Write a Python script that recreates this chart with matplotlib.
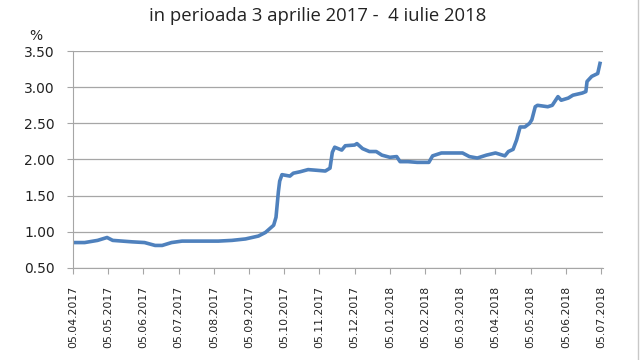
import numpy as np
import matplotlib
matplotlib.use("Agg")
import matplotlib.pyplot as plt
import pandas as pd

# Dobanda (%)
dates = [
    "2017-04-05", "2017-04-15", "2017-04-26", "2017-05-04", "2017-05-09",
    "2017-05-26", "2017-06-06", "2017-06-15", "2017-06-21", "2017-06-29",
    "2017-07-08", "2017-07-22", "2017-08-09", "2017-08-21", "2017-09-02",
    "2017-09-13", "2017-09-19", "2017-09-26", "2017-09-28", "2017-09-30",
    "2017-10-01", "2017-10-03", "2017-10-10", "2017-10-13", "2017-10-19",
    "2017-10-26", "2017-11-03", "2017-11-10", "2017-11-14", "2017-11-16",
    "2017-11-18", "2017-11-24", "2017-11-27", "2017-12-05", "2017-12-07",
    "2017-12-12", "2017-12-18", "2017-12-24", "2017-12-29", "2018-01-05",
    "2018-01-11", "2018-01-14", "2018-01-21", "2018-01-29", "2018-02-08",
    "2018-02-11", "2018-02-18", "2018-03-07", "2018-03-13", "2018-03-20",
    "2018-03-28", "2018-04-05", "2018-04-13", "2018-04-16", "2018-04-20",
    "2018-04-23", "2018-04-26", "2018-04-30", "2018-05-04", "2018-05-06",
    "2018-05-09", "2018-05-11", "2018-05-20", "2018-05-24", "2018-05-29",
    "2018-06-01", "2018-06-07", "2018-06-11", "2018-06-19", "2018-06-22",
    "2018-06-23", "2018-06-27", "2018-07-02", "2018-07-04",
]
rates = [
    0.85, 0.85, 0.88, 0.92, 0.88,
    0.86, 0.85, 0.81, 0.81, 0.85,
    0.87, 0.87, 0.87, 0.88, 0.90,
    0.94, 0.99, 1.09, 1.20, 1.55,
    1.70, 1.79, 1.77, 1.81, 1.83,
    1.86, 1.85, 1.84, 1.88, 2.10,
    2.17, 2.13, 2.19, 2.20, 2.22,
    2.15, 2.11, 2.11, 2.06, 2.03,
    2.04, 1.97, 1.97, 1.96, 1.96,
    2.05, 2.09, 2.09, 2.04, 2.02,
    2.06, 2.09, 2.05, 2.11, 2.14,
    2.27, 2.45, 2.45, 2.50, 2.55,
    2.73, 2.75, 2.73, 2.75, 2.87,
    2.82, 2.85, 2.89, 2.92, 2.94,
    3.08, 3.15, 3.19, 3.33,
]
tick_labels = ["05.04.2017", "05.05.2017", "05.06.2017", "05.07.2017",
               "05.08.2017", "05.09.2017", "05.10.2017", "05.11.2017",
               "05.12.2017", "05.01.2018", "05.02.2018", "05.03.2018",
               "05.04.2018", "05.05.2018", "05.06.2018", "05.07.2018"]
title = "in perioada 3 aprilie 2017 -  4 iulie 2018"


def month_pos(d):
    # axa Excel: fiecare luna are aceeasi latime, reper pe data de 5
    return (d.year - 2017) * 12 + d.month - 4 + (d.day - 5) / d.days_in_month


d = pd.to_datetime(dates)
x = np.array([month_pos(t) for t in d])

fig = plt.figure(figsize=(6.4, 3.6), dpi=100)
ax = fig.add_axes([0.114, 0.256, 0.828, 0.602])

ax.plot(x, rates, color="#4f81bd", lw=2.6, solid_joinstyle="round")

ax.set_xlim(0, 15.05)
ax.set_ylim(0.5, 3.5)
ax.set_yticks(np.arange(0.5, 3.51, 0.5))
ax.set_yticklabels([f"{v:.2f}" for v in np.arange(0.5, 3.51, 0.5)], fontsize=10)
ax.set_xticks(range(len(tick_labels)))
ax.set_xticklabels(tick_labels, rotation=90, fontsize=7.8)

ax.grid(axis="y", color="#a6a6a6", lw=0.9)
ax.set_axisbelow(True)
for s in ["top", "right"]:
    ax.spines[s].set_visible(False)
for s in ["left", "bottom"]:
    ax.spines[s].set_color("#a6a6a6")
ax.tick_params(axis="both", direction="out", length=4, color="#a6a6a6",
               labelcolor="#222222")
ax.tick_params(axis="x", pad=9)
ax.tick_params(axis="y", pad=9)

fig.text(0.045, 0.90, "%", fontsize=10, color="#222222", va="center")
fig.text(0.497, 0.955, title, fontsize=13.3, ha="center", va="center",
         family="Open Sans", color="#222222")

# marginea cadrului din dreapta
fig.add_artist(plt.Line2D([0.997, 0.997], [0, 1], transform=fig.transFigure,
                          color="#c8c8c8", lw=1))

fig.savefig("out.png", dpi=100, facecolor="white")
